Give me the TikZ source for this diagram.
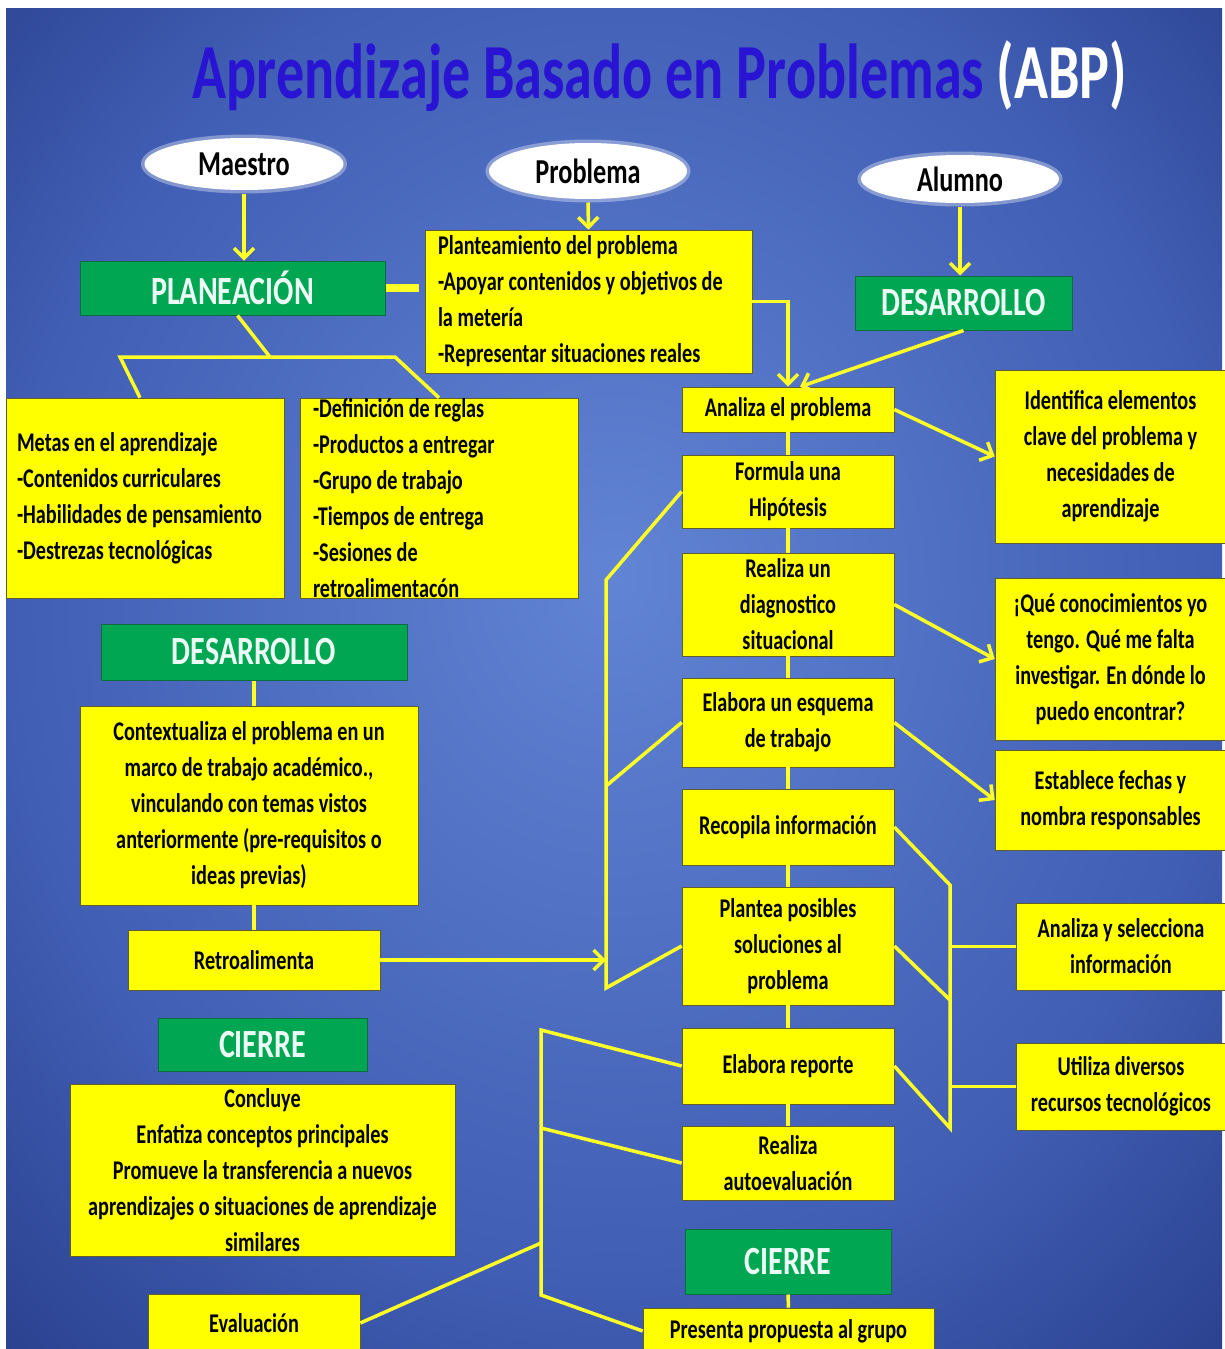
\documentclass[tikz,border=0pt]{standalone}
\usepackage{fontspec}
\setmainfont{Carlito}[FakeStretch=0.75]
\newfontfamily\titlefont{Carlito}[FakeStretch=0.72]
\usetikzlibrary{shapes.geometric,arrows.meta}
\definecolor{bgin}{RGB}{98,132,212}
\definecolor{bgmid}{RGB}{64,94,180}
\definecolor{bgout}{RGB}{28,46,118}
\definecolor{bgdeep}{RGB}{12,26,82}
\definecolor{cardfill}{RGB}{255,255,0}
\definecolor{cardedge}{RGB}{95,95,45}
\definecolor{phasefill}{RGB}{0,166,81}
\definecolor{phaseedge}{RGB}{12,110,62}
\definecolor{phasetext}{RGB}{235,250,245}
\definecolor{titleblue}{RGB}{40,20,210}
\definecolor{linkcol}{RGB}{255,255,40}
\pgfdeclareradialshading{backdrop}{\pgfpoint{0bp}{4bp}}{color(0bp)=(bgin); color(25bp)=(bgmid); color(45bp)=(bgout); color(72bp)=(bgdeep)}
\newcommand\cardfont{\bfseries\fontsize{27}{36}\selectfont}
\newcommand\phasefont{\bfseries\fontsize{40}{44}\selectfont}
\newcommand\ovalfont{\bfseries\fontsize{35}{38}\selectfont}
\begin{document}
\begin{tikzpicture}
[x=1pt,y=-1pt,%
 card/.style={draw=cardedge,line width=0.6pt,fill=cardfill,text=black,inner sep=0pt,align=center,font=\cardfont},%
 phase/.style={draw=phaseedge,line width=1pt,fill=phasefill,text=phasetext,inner sep=0pt,font=\phasefont},%
 oval/.style={ellipse,fill=white,draw=white,draw opacity=0.35,line width=7pt,inner sep=0pt,font=\ovalfont},%
 link/.style={draw=linkcol,line width=3.5pt},%
 arrowline/.style={link,-{Straight Barb[length=10pt,width=20pt]}}]
\useasboundingbox (0,0) rectangle (1224,1349);
%% backdrop
\fill[white] (0,0) rectangle (1224,1349);
\shade[shading=backdrop] (6,8) rectangle (1222,1352);
%% title
\node[anchor=base,inner sep=0pt,font=\titlefont\bfseries\fontsize{78}{80}\selectfont] (title) at (660,98)
  {\textcolor{titleblue}{Aprendizaje Basado en Problemas} \textcolor{white}{(ABP)}};
%% actors
\node[oval,minimum width=199,minimum height=52] (maestro) at (244,164) {Maestro};
\node[oval,minimum width=198,minimum height=56] (problema) at (588,171) {Problema};
\node[oval,minimum width=198,minimum height=48] (alumno) at (960,179) {Alumno};
%% phases
\node[phase,minimum width=305,minimum height=54] (planea) at (232.5,288) {PLANEACIÓN};
\node[phase,minimum width=217,minimum height=54] (desarrA) at (963.5,303) {DESARROLLO};
\node[phase,minimum width=306,minimum height=56] (desarrM) at (254,652) {DESARROLLO};
\node[phase,minimum width=209,minimum height=53] (cierreM) at (262.5,1044.5) {CIERRE};
\node[phase,minimum width=206,minimum height=65] (cierreA) at (788,1261.5) {CIERRE};
%% teacher side
\node[card,align=flush left,text width=301,minimum width=327,minimum height=143] (plantea) at (588.5,301.5)
  {Planteamiento del problema\\-Apoyar contenidos y objetivos de\\la metería\\-Representar situaciones reales};
\node[card,align=flush left,text width=256,minimum width=278,minimum height=200] (metas) at (145,498)
  {Metas en el aprendizaje\\-Contenidos curriculares\\-Habilidades de pensamiento\\-Destrezas tecnológicas};
\node[card,align=flush left,text width=252,minimum width=278,minimum height=200] (reglas) at (439,498)
  {-Definición de reglas\\-Productos a entregar\\-Grupo de trabajo\\-Tiempos de entrega\\-Sesiones de\\retroalimentacón};
\node[card,minimum width=338,minimum height=199] (context) at (249,805.5)
  {Contextualiza el problema en un\\marco de trabajo académico.,\\vinculando con temas vistos\\anteriormente (pre-requisitos o\\ideas previas)};
\node[card,minimum width=252,minimum height=60] (retro) at (254,960) {Retroalimenta};
\node[card,minimum width=385,minimum height=172] (concluye) at (262.5,1170)
  {Concluye\\Enfatiza conceptos principales\\Promueve la transferencia a nuevos\\aprendizajes o situaciones de aprendizaje\\similares};
\node[card,minimum width=212,minimum height=58] (evalua) at (254,1323) {Evaluación};
%% student steps
\node[card,minimum width=212,minimum height=45] (analiza) at (788,409.5) {Analiza el problema};
\node[card,minimum width=212,minimum height=73] (formula) at (788,491.5) {Formula una\\Hipótesis};
\node[card,minimum width=212,minimum height=103] (diagno) at (788,604.5) {Realiza un\\diagnostico\\situacional};
\node[card,minimum width=212,minimum height=89] (esquema) at (788,722.5) {Elabora un esquema\\de trabajo};
\node[card,minimum width=212,minimum height=76] (recopila) at (788,827) {Recopila información};
\node[card,minimum width=212,minimum height=118] (soluc) at (788,946) {Plantea posibles\\soluciones al\\problema};
\node[card,minimum width=212,minimum height=76] (reporte) at (788,1066) {Elabora reporte};
\node[card,minimum width=212,minimum height=74] (autoev) at (788,1163) {Realiza\\autoevaluación};
\node[card,minimum width=291,minimum height=46] (presenta) at (788.5,1331) {Presenta propuesta al grupo};
%% student outcomes
\node[card,minimum width=231,minimum height=173] (identif) at (1110.5,456.5)
  {Identifica elementos\\clave del problema y\\necesidades de\\aprendizaje};
\node[card,minimum width=231,minimum height=162] (conoc) at (1110.5,659)
  {¡Qué conocimientos yo\\tengo. Qué me falta\\investigar. En dónde lo\\puedo encontrar?};
\node[card,minimum width=231,minimum height=100] (fechas) at (1110.5,800)
  {Establece fechas y\\nombra responsables};
\node[card,minimum width=210,minimum height=87] (selecc) at (1121,946.5) {Analiza y selecciona\\información};
\node[card,minimum width=210,minimum height=87] (recursos) at (1121,1086.5) {Utiliza diversos\\recursos tecnológicos};
%% bend points
\coordinate (pj) at (270,357);
\coordinate (pl) at (120,357);
\coordinate (pr) at (395,357);
\coordinate (lbT) at (606,580);
\coordinate (lbM) at (606,786);
\coordinate (lbB) at (606,988);
\coordinate (rbT) at (950,885);
\coordinate (rbM) at (950,1000);
\coordinate (rbB) at (950,1128);
\coordinate (lwT) at (541,1030);
\coordinate (lwM) at (541,1128);
\coordinate (lwE) at (541,1243);
\coordinate (lwB) at (541,1295);
%% arrows from the actors
\draw[arrowline] (maestro.south) -- (maestro.south |- planea.north);
\draw[arrowline] (problema.south) -- (plantea.north);
\draw[arrowline] (alumno.south) -- (alumno.south |- desarrA.north);
\draw[arrowline] (plantea.east) -| (analiza.north);
\draw[arrowline] (desarrA.south) -- ([xshift=12pt]analiza.north);
%% teacher links
\draw[draw=linkcol,line width=8pt,shorten >=6pt] (planea.east) -- (planea.east -| plantea.west);
\draw[link] ([xshift=5pt]planea.south) -- (pj);
\draw[link] ([xshift=-5pt]metas.north) -- (pl) -- (pr) -- (reglas.north);
\draw[link] (desarrM.south) -- (desarrM.south |- context.north);
\draw[link] (retro.north |- context.south) -- (retro.north);
\draw[arrowline] (retro.east) -- (retro.east -| lbT);
%% student links
\foreach \a/\b in {analiza/formula,formula/diagno,diagno/esquema,esquema/recopila,%
  recopila/soluc,soluc/reporte,reporte/autoev,cierreA/presenta}
  \draw[link] (\a.south) -- (\b.north);
\draw[link] (formula.west) -- (lbT) -- (lbB) -- (soluc.west);
\draw[link] (esquema.west) -- (lbM);
\draw[arrowline] (analiza.east) -- (identif.west);
\draw[arrowline] (diagno.east) -- (conoc.west);
\draw[arrowline] (esquema.east) -- (fechas.west);
\draw[link] (recopila.east) -- (rbT) -- (rbB) -- (reporte.east);
\draw[link] (soluc.east) -- (rbM);
\draw[link] (selecc.west) -- (selecc.west -| rbT);
\draw[link] (recursos.west) -- (recursos.west -| rbT);
%% closing links
\draw[link] (reporte.west) -- (lwT) -- (lwB) -- (presenta.west);
\draw[link] (autoev.west) -- (lwM);
\draw[link] (evalua.east) -- (lwE);
\end{tikzpicture}
\end{document}
